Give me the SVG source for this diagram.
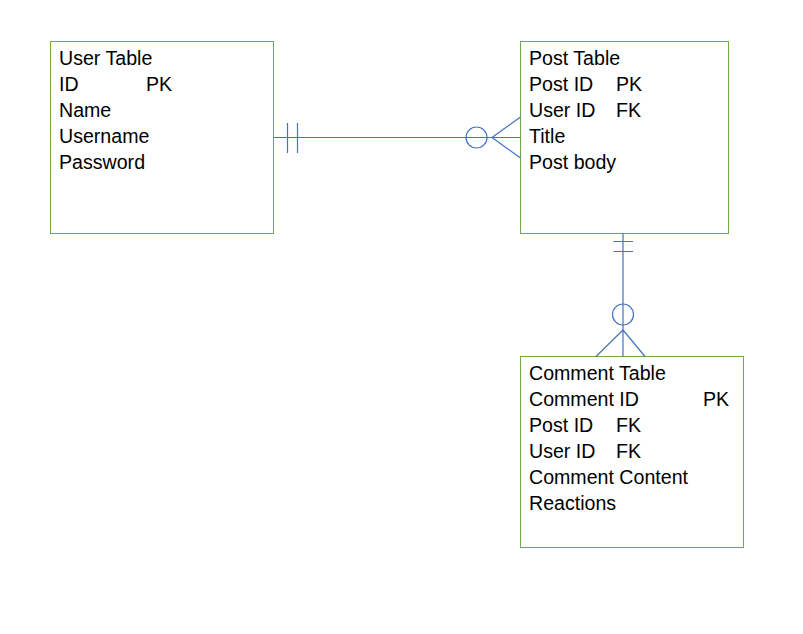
<svg xmlns="http://www.w3.org/2000/svg" width="803" height="634" viewBox="0 0 803 634">
<style>
.box{fill:#fff;stroke:#70AD47;stroke-width:1}
.t{font-family:"Liberation Sans","Open Sans",sans-serif;font-size:19.6px;fill:#000}
.c{fill:none;stroke:#4472C4;stroke-width:1.2}
</style>
<rect width="803" height="634" fill="#fff"/>
<g id="user">
<rect class="box" x="50.5" y="41.5" width="223" height="192"/>
<text class="t" x="59" y="65">User Table</text>
<text class="t" x="59" y="91">ID</text><text class="t" x="146" y="91">PK</text>
<text class="t" x="59" y="117">Name</text>
<text class="t" x="59" y="143">Username</text>
<text class="t" x="59" y="169">Password</text>
</g>
<g id="post">
<rect class="box" x="520.5" y="41.5" width="208" height="192"/>
<text class="t" x="529" y="65">Post Table</text>
<text class="t" x="529" y="91">Post ID</text><text class="t" x="616" y="91">PK</text>
<text class="t" x="529" y="117">User ID</text><text class="t" x="616" y="117">FK</text>
<text class="t" x="529" y="143">Title</text>
<text class="t" x="529" y="169">Post body</text>
</g>
<g id="comment">
<rect class="box" x="520.5" y="356.5" width="223" height="191"/>
<text class="t" x="529" y="380">Comment Table</text>
<text class="t" x="529" y="406">Comment ID</text><text class="t" x="703" y="406">PK</text>
<text class="t" x="529" y="432">Post ID</text><text class="t" x="616" y="432">FK</text>
<text class="t" x="529" y="458">User ID</text><text class="t" x="616" y="458">FK</text>
<text class="t" x="529" y="484">Comment Content</text>
<text class="t" x="529" y="510">Reactions</text>
</g>
<g id="connectors">
<path class="c" d="M273.5 137.5H520.5M287.5 123V153M297.5 123V153M492 137.5L520.5 117M492 137.5L520.5 158"/>
<circle class="c" cx="476.5" cy="137.5" r="10.5"/>
<path class="c" d="M623 233.5V356.5M613.5 241.5H633M613.5 251.5H633M623 330L596 356.5M623 330L645 356.5"/>
<circle class="c" cx="623" cy="314.5" r="10.5"/>
</g>
</svg>
